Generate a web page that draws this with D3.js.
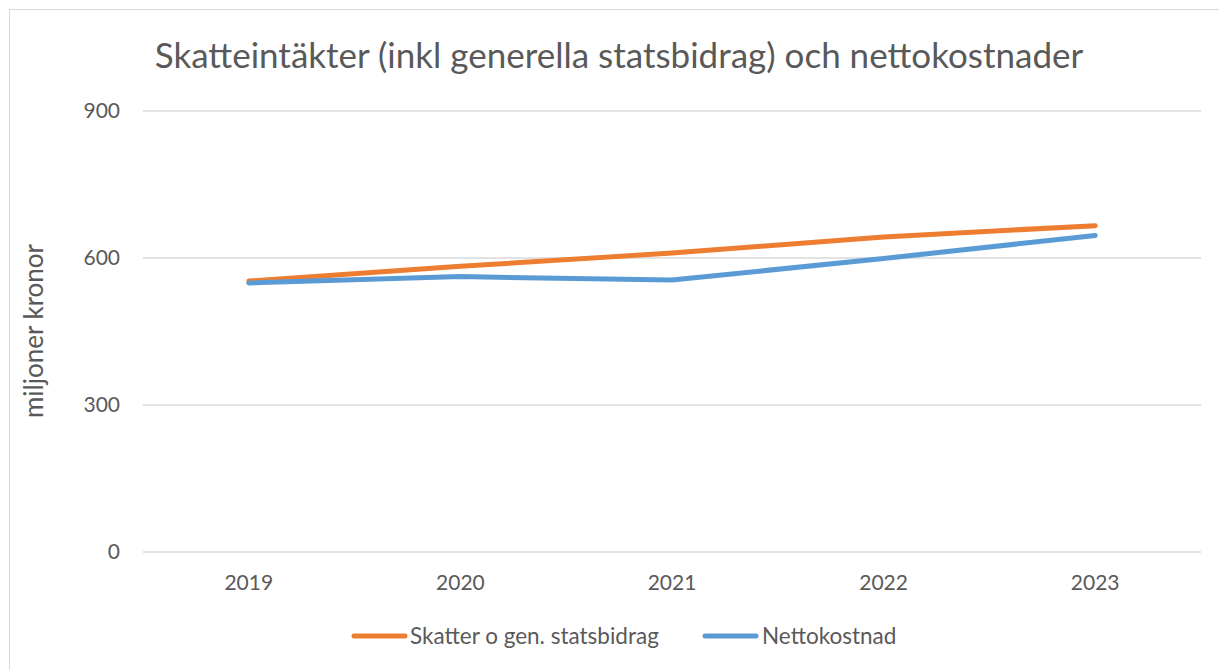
<!DOCTYPE html>
<html><head><meta charset="utf-8">
<script src="https://cdn.jsdelivr.net/npm/d3@7"></script>
<style>body{margin:0;background:#fff;}svg{display:block;font-family:Lato,"Open Sans",sans-serif;}</style>
</head><body>
<svg id="c" width="1219" height="670"></svg>
<script>
const years = ["2019","2020","2021","2022","2023"];
const skatter = [553, 583, 610, 643, 666];
const netto = [549, 562, 555, 599, 646];
const yTicks = [0, 300, 600, 900];
const seriesNames = ["Skatter o gen. statsbidrag", "Nettokostnad"];
const colors = ["#ED7D31", "#5B9BD5"];

const svg = d3.select("#c");
svg.append("rect").attr("x",9.5).attr("y",9.5).attr("width",1230).attr("height",680)
  .attr("fill","#fff").attr("stroke","#d9d9d9");

const x = d3.scaleBand().domain(years).range([143,1201]);
const y = d3.scaleLinear().domain([0,900]).range([552,111]);

svg.append("text").attr("x",619).attr("y",68).attr("text-anchor","middle")
  .attr("font-size",35).attr("fill","#595959").text("Skatteintäkter (inkl generella statsbidrag) och nettokostnader");

const grid = svg.append("g");
yTicks.forEach(t=>{
  grid.append("line").attr("x1",143).attr("x2",1201).attr("y1",y(t)).attr("y2",y(t))
    .attr("stroke","#d9d9d9").attr("stroke-width",1.5);
  grid.append("text").attr("x",120).attr("y",y(t)).attr("dy","0.35em").attr("text-anchor","end")
    .attr("font-size",21).attr("fill","#595959").text(t);
});
years.forEach(yr=>{
  svg.append("text").attr("x",x(yr)+x.bandwidth()/2).attr("y",590).attr("text-anchor","middle")
    .attr("font-size",21).attr("fill","#595959").text(yr);
});
svg.append("text").attr("transform","translate(43,331) rotate(-90)").attr("text-anchor","middle")
  .attr("font-size",26).attr("fill","#595959").text("miljoner kronor");

const line = d3.line().x((d,i)=>x(years[i])+x.bandwidth()/2).y(d=>y(d));
[skatter, netto].forEach((s,i)=>{
  svg.append("path").attr("d",line(s)).attr("fill","none").attr("stroke",colors[i])
    .attr("stroke-width",5).attr("stroke-linecap","round").attr("stroke-linejoin","round");
});

const leg = [{x1:354,x2:405,tx:410},{x1:705,x2:756,tx:762}];
seriesNames.forEach((n,i)=>{
  svg.append("line").attr("x1",leg[i].x1).attr("x2",leg[i].x2).attr("y1",636).attr("y2",636)
    .attr("stroke",colors[i]).attr("stroke-width",5).attr("stroke-linecap","round");
  svg.append("text").attr("x",leg[i].tx).attr("y",636).attr("dy","0.35em")
    .attr("font-size",22.5).attr("fill","#595959").text(n);
});
</script>
</body></html>
